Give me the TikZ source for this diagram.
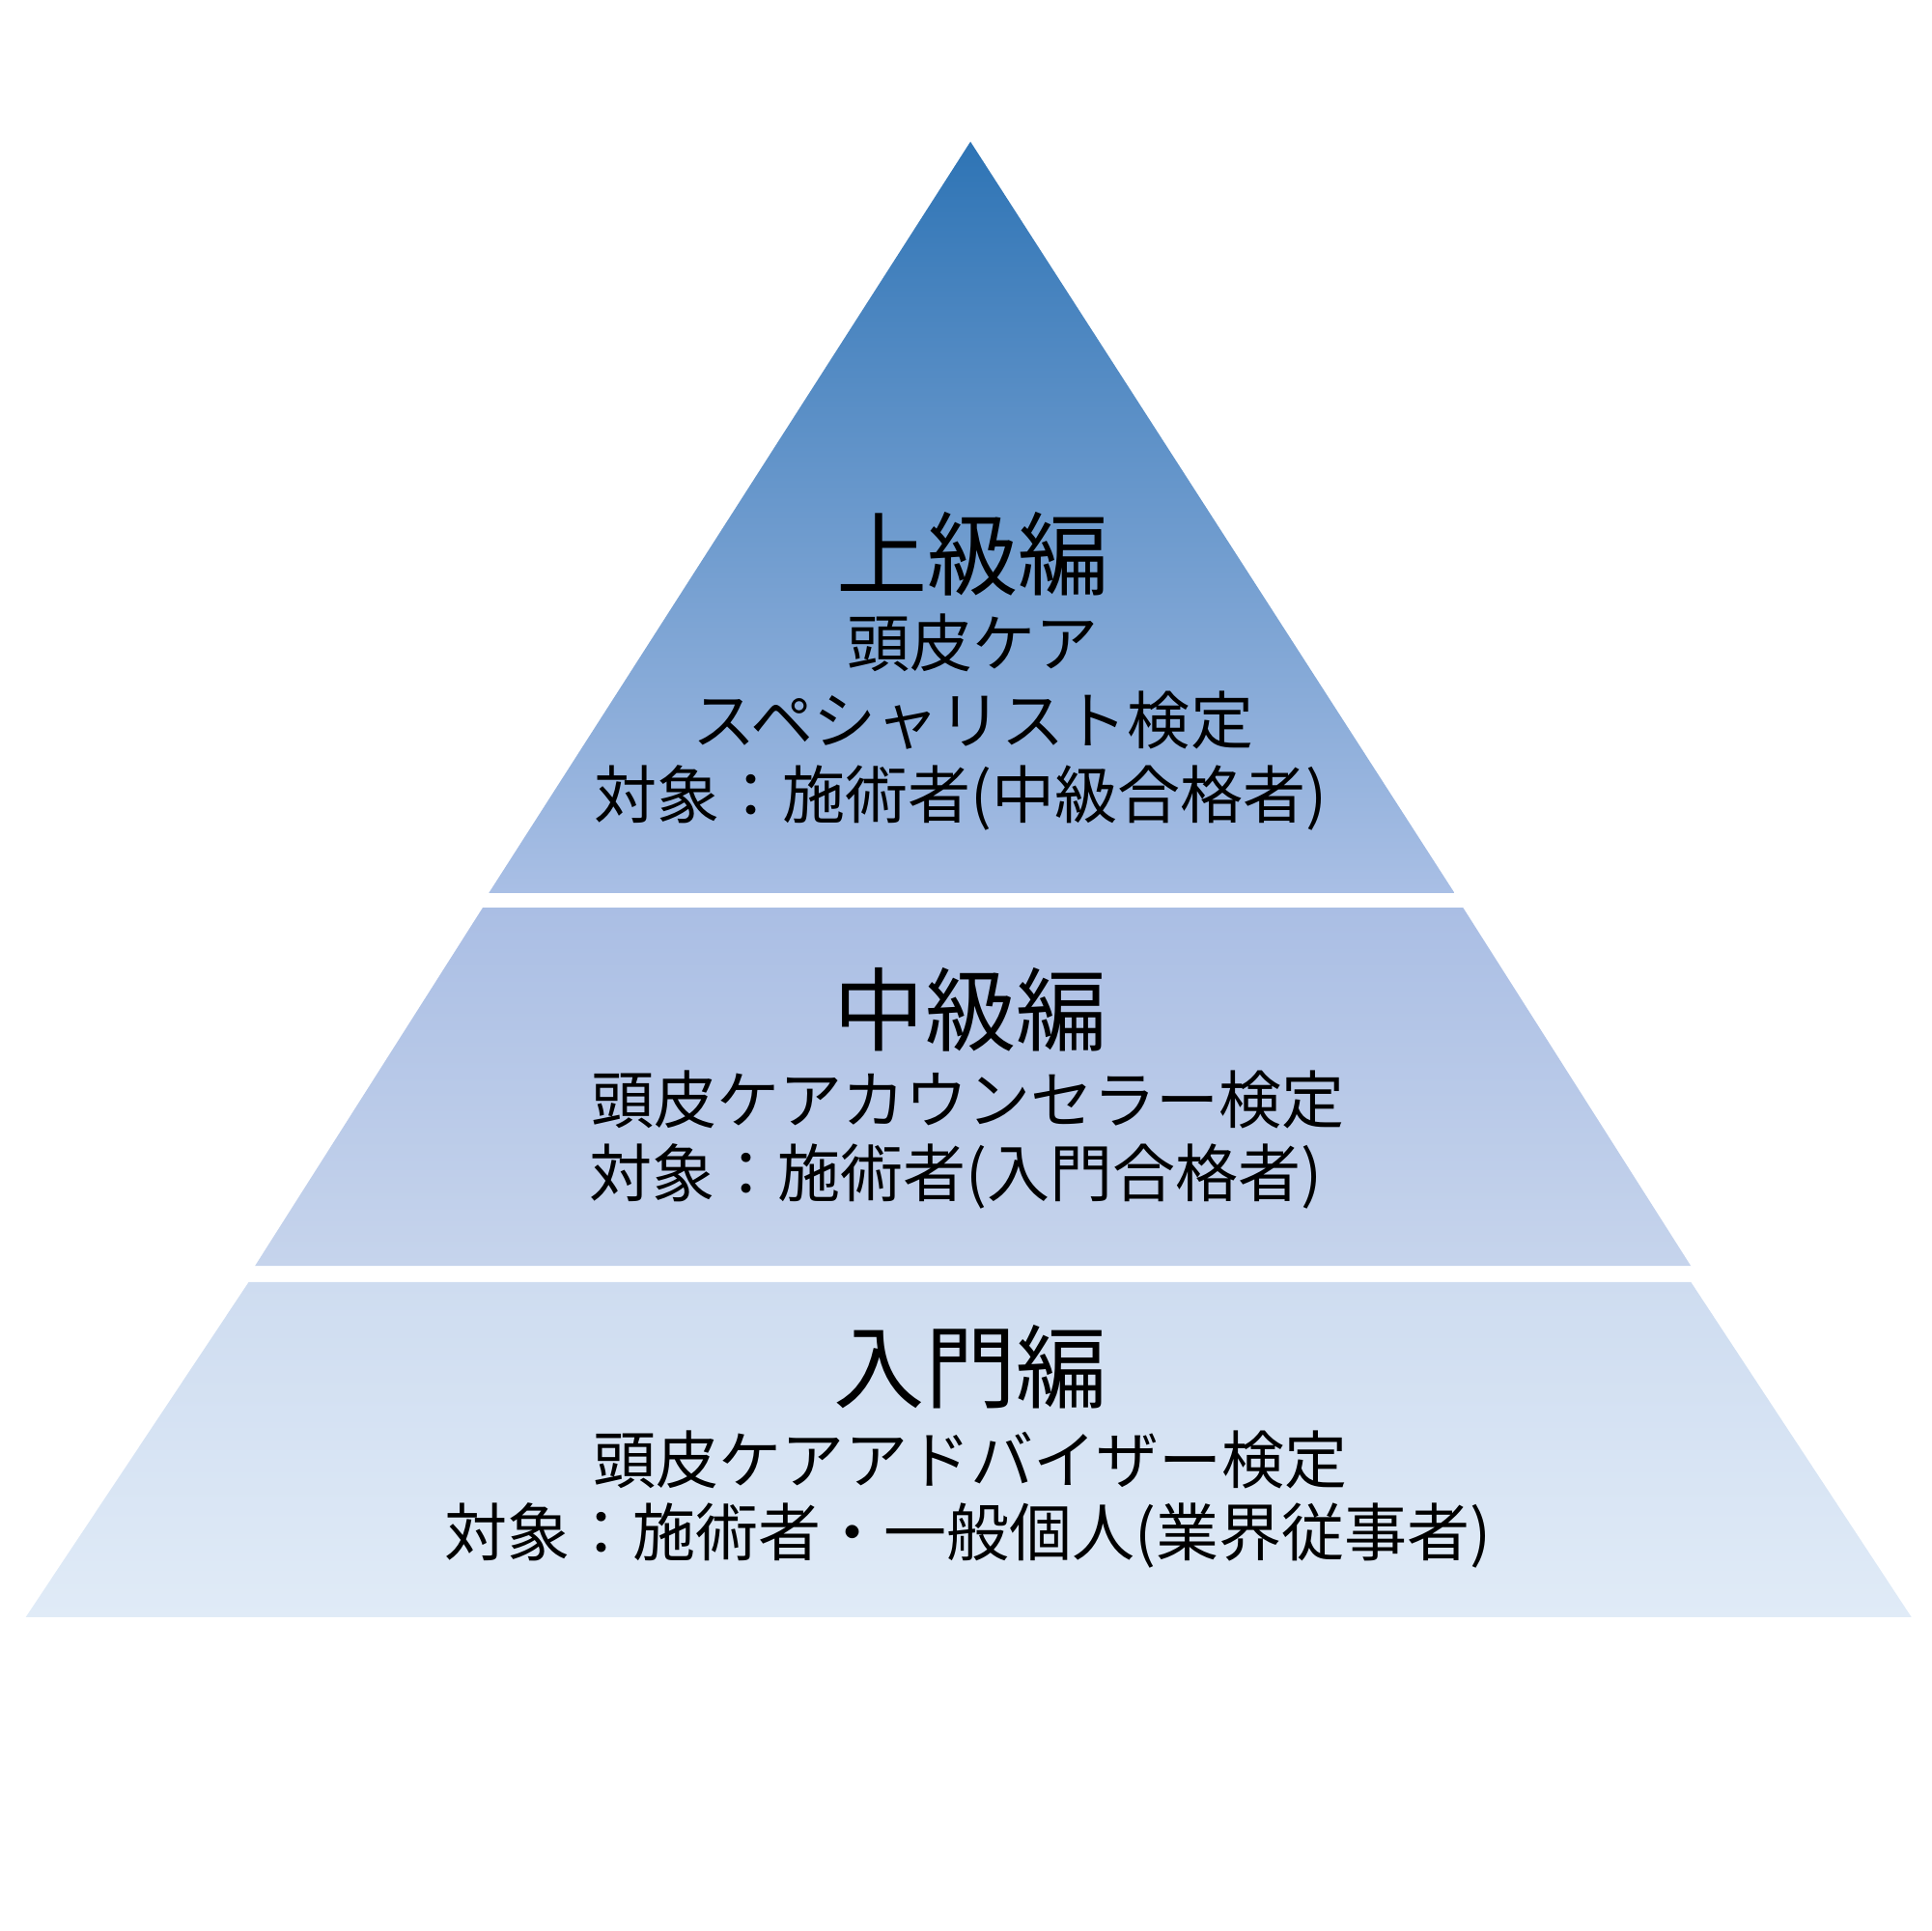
\documentclass[tikz,border=0pt]{standalone}
\usepackage{fontspec}
\setmainfont{Noto Sans CJK JP}
\definecolor{topdark}{HTML}{2E74B5}
\definecolor{toplight}{HTML}{A9BFE5}
\definecolor{midtop}{HTML}{AABEE4}
\definecolor{midbot}{HTML}{C6D4EC}
\definecolor{lowtop}{HTML}{CEDCF0}
\definecolor{lowbot}{HTML}{E0EBF7}
\tikzset{
  tier/.style={font=\fontsize{21}{25}\selectfont, inner sep=0pt},
  body/.style={font=\fontsize{14.5}{17}\selectfont, inner sep=0pt}
}
\begin{document}
\begin{tikzpicture}[x=0.01cm, y=-0.01cm]
\useasboundingbox (0,0) rectangle (1568,1568);
% ===== pyramid levels =====
\shade[top color=topdark, bottom color=toplight, shading angle=0]
  (788,115) -- (1181,725) -- (397,725) -- cycle;
\shade[top color=midtop, bottom color=midbot]
  (392,737) -- (1188,737) -- (1373,1028) -- (207,1028) -- cycle;
\shade[top color=lowtop, bottom color=lowbot]
  (202,1041) -- (1373,1041) -- (1552,1313) -- (21,1313) -- cycle;

% ===== texts =====
\node[tier] (adv) at (790,450) {上級編};
\node[body] (adv1) at (790,522) {頭皮ケア};
\node[body] (adv2) at (790,585) {スペシャリスト検定};
\node[body] (adv3) at (780,648) {対象：施術者(中級合格者)};

\node[tier] (mid) at (788,820) {中級編};
\node[body] (mid1) at (786,893) {頭皮ケアカウンセラー検定};
\node[body] (mid2) at (776,955) {対象：施術者(入門合格者)};

\node[tier] (low) at (788,1110) {入門編};
\node[body] (low1) at (788,1185) {頭皮ケアアドバイザー検定};
\node[body] (low2) at (786,1247) {対象：施術者・一般個人(業界従事者)};
\end{tikzpicture}
\end{document}
